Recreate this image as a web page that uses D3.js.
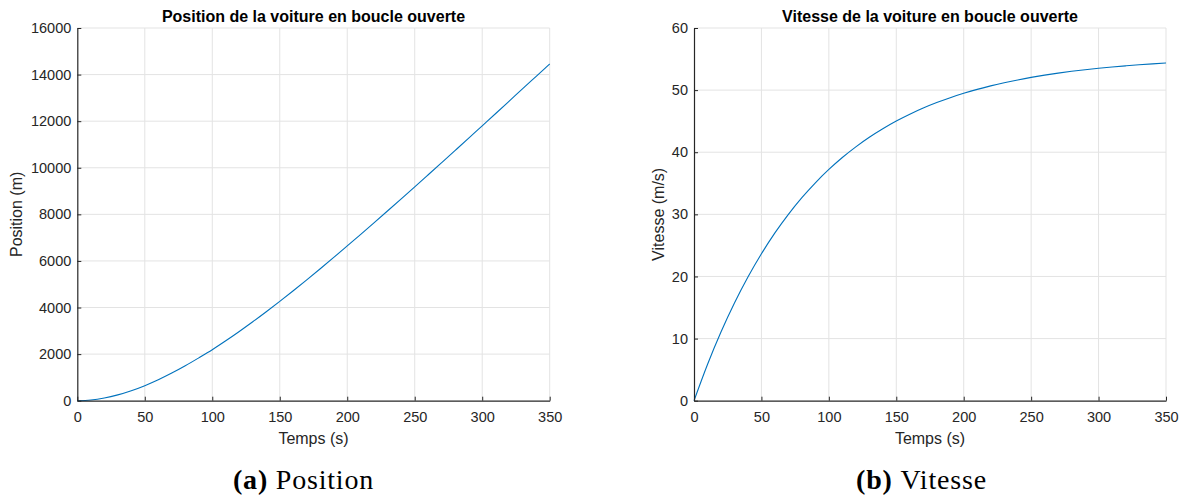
<!DOCTYPE html>
<html>
<head>
<meta charset="utf-8">
<script src="https://cdn.jsdelivr.net/npm/d3@7"></script>
<style>
  html, body { margin: 0; padding: 0; background: #ffffff; }
  svg { display: block; }
</style>
</head>
<body>
<svg id="chart" width="1184" height="498"></svg>
<script>
// ---- Data ----
const time = [0, 10, 20, 30, 40, 50, 60, 70, 80, 90, 100, 110, 120, 130, 140, 150, 160, 170, 180,
  190, 200, 210, 220, 230, 240, 250, 260, 270, 280, 290, 300, 310, 320, 330, 340, 350];

const position = [0, 29, 114, 249, 428, 646, 899, 1185, 1498, 1838, 2190, 2572, 2972, 3388,
  3820, 4265, 4722, 5190, 5665, 6150, 6645, 7143, 7646, 8153, 8665, 9180, 9700, 10222,
  10745, 11270, 11800, 12330, 12862, 13395, 13925, 14455];

const vitesse = [0, 5.84, 11.06, 15.73, 19.91, 23.65, 27.01, 30.0, 32.68, 35.08, 37.23, 39.15,
  40.87, 42.41, 43.78, 45.02, 46.12, 47.11, 47.99, 48.78, 49.48, 50.12, 50.68, 51.19, 51.64,
  52.05, 52.41, 52.74, 53.03, 53.29, 53.52, 53.73, 53.91, 54.08, 54.23, 54.36];

const xTicks = [0, 50, 100, 150, 200, 250, 300, 350];
const posTicks = [0, 2000, 4000, 6000, 8000, 10000, 12000, 14000, 16000];
const vitTicks = [0, 10, 20, 30, 40, 50, 60];

const panels = [
  { left: 77.3, right: 549.7, top: 28, bottom: 400.7, yMax: 16000, yTicks: posTicks, values: position,
    title: "Position de la voiture en boucle ouverte", xlabel: "Temps (s)", ylabel: "Position (m)",
    ylabelX: 16, capTag: "(a)", capText: "Position", capX: 303.5 },
  { left: 694, right: 1166, top: 28, bottom: 400.7, yMax: 60, yTicks: vitTicks, values: vitesse,
    title: "Vitesse de la voiture en boucle ouverte", xlabel: "Temps (s)", ylabel: "Vitesse (m/s)",
    ylabelX: 658, capTag: "(b)", capText: "Vitesse", capX: 921.5 }
];

const svg = d3.select("#chart");
const axisColor = "#262626";
const gridColor = "#e3e3e3";
const lineColor = "#0072BD";
const sans = "'Liberation Sans', Arial, Helvetica, sans-serif";
const serif = "'Liberation Serif', 'Times New Roman', serif";

panels.forEach(p => {
  const x = d3.scaleLinear().domain([0, 350]).range([p.left, p.right]);
  const y = d3.scaleLinear().domain([0, p.yMax]).range([p.bottom, p.top]);
  const g = svg.append("g");

  // grid
  g.append("g").selectAll("line").data(xTicks.slice(1)).join("line")
    .attr("x1", d => x(d)).attr("x2", d => x(d))
    .attr("y1", p.top).attr("y2", p.bottom)
    .attr("stroke", gridColor).attr("stroke-width", 1);
  g.append("g").selectAll("line").data(p.yTicks.slice(1)).join("line")
    .attr("y1", d => y(d)).attr("y2", d => y(d))
    .attr("x1", p.left).attr("x2", p.right)
    .attr("stroke", gridColor).attr("stroke-width", 1);

  // data line
  const line = d3.line().x((d, i) => x(time[i])).y(d => y(d)).curve(d3.curveMonotoneX);
  g.append("path").datum(p.values)
    .attr("d", line)
    .attr("fill", "none")
    .attr("stroke", lineColor)
    .attr("stroke-width", 1.1);

  // axes (ticks inward)
  const xAxis = d3.axisBottom(x).tickValues(xTicks).tickSizeInner(-4).tickSizeOuter(0)
    .tickPadding(11).tickFormat(d3.format("d"));
  const gx = g.append("g").attr("transform", `translate(0,${p.bottom})`).call(xAxis);
  const yAxis = d3.axisLeft(y).tickValues(p.yTicks).tickSizeInner(-4).tickSizeOuter(0)
    .tickPadding(6).tickFormat(d3.format("d"));
  const gy = g.append("g").attr("transform", `translate(${p.left},0)`).call(yAxis);

  [gx, gy].forEach(ax => {
    ax.select(".domain").attr("stroke", axisColor).attr("stroke-width", 1.2);
    ax.selectAll(".tick line").attr("stroke", axisColor).attr("stroke-width", 1);
    ax.selectAll(".tick text").attr("fill", axisColor)
      .style("font-family", sans).style("font-size", "14.5px");
  });

  // title
  g.append("text")
    .attr("x", (p.left + p.right) / 2).attr("y", 22)
    .attr("text-anchor", "middle")
    .style("font-family", sans).style("font-weight", "bold").style("font-size", "16px")
    .attr("fill", "#000")
    .text(p.title);

  // x label
  g.append("text")
    .attr("x", (p.left + p.right) / 2).attr("y", 444)
    .attr("text-anchor", "middle")
    .style("font-family", sans).style("font-size", "16px")
    .attr("fill", axisColor)
    .text(p.xlabel);

  // y label
  g.append("text")
    .attr("transform", `translate(${p.ylabelX},${(p.top + p.bottom) / 2}) rotate(-90)`)
    .attr("text-anchor", "middle")
    .attr("dy", "0.35em")
    .style("font-family", sans).style("font-size", "16px")
    .attr("fill", axisColor)
    .text(p.ylabel);

  // caption
  const cap = g.append("text")
    .attr("x", p.capX).attr("y", 489)
    .attr("text-anchor", "middle")
    .style("font-family", serif).style("font-size", "28px")
    .style("letter-spacing", "0.8px")
    .attr("fill", "#000");
  cap.append("tspan").style("font-weight", "bold").text(p.capTag);
  cap.append("tspan").text("\u00A0" + p.capText);
});
</script>
</body>
</html>
